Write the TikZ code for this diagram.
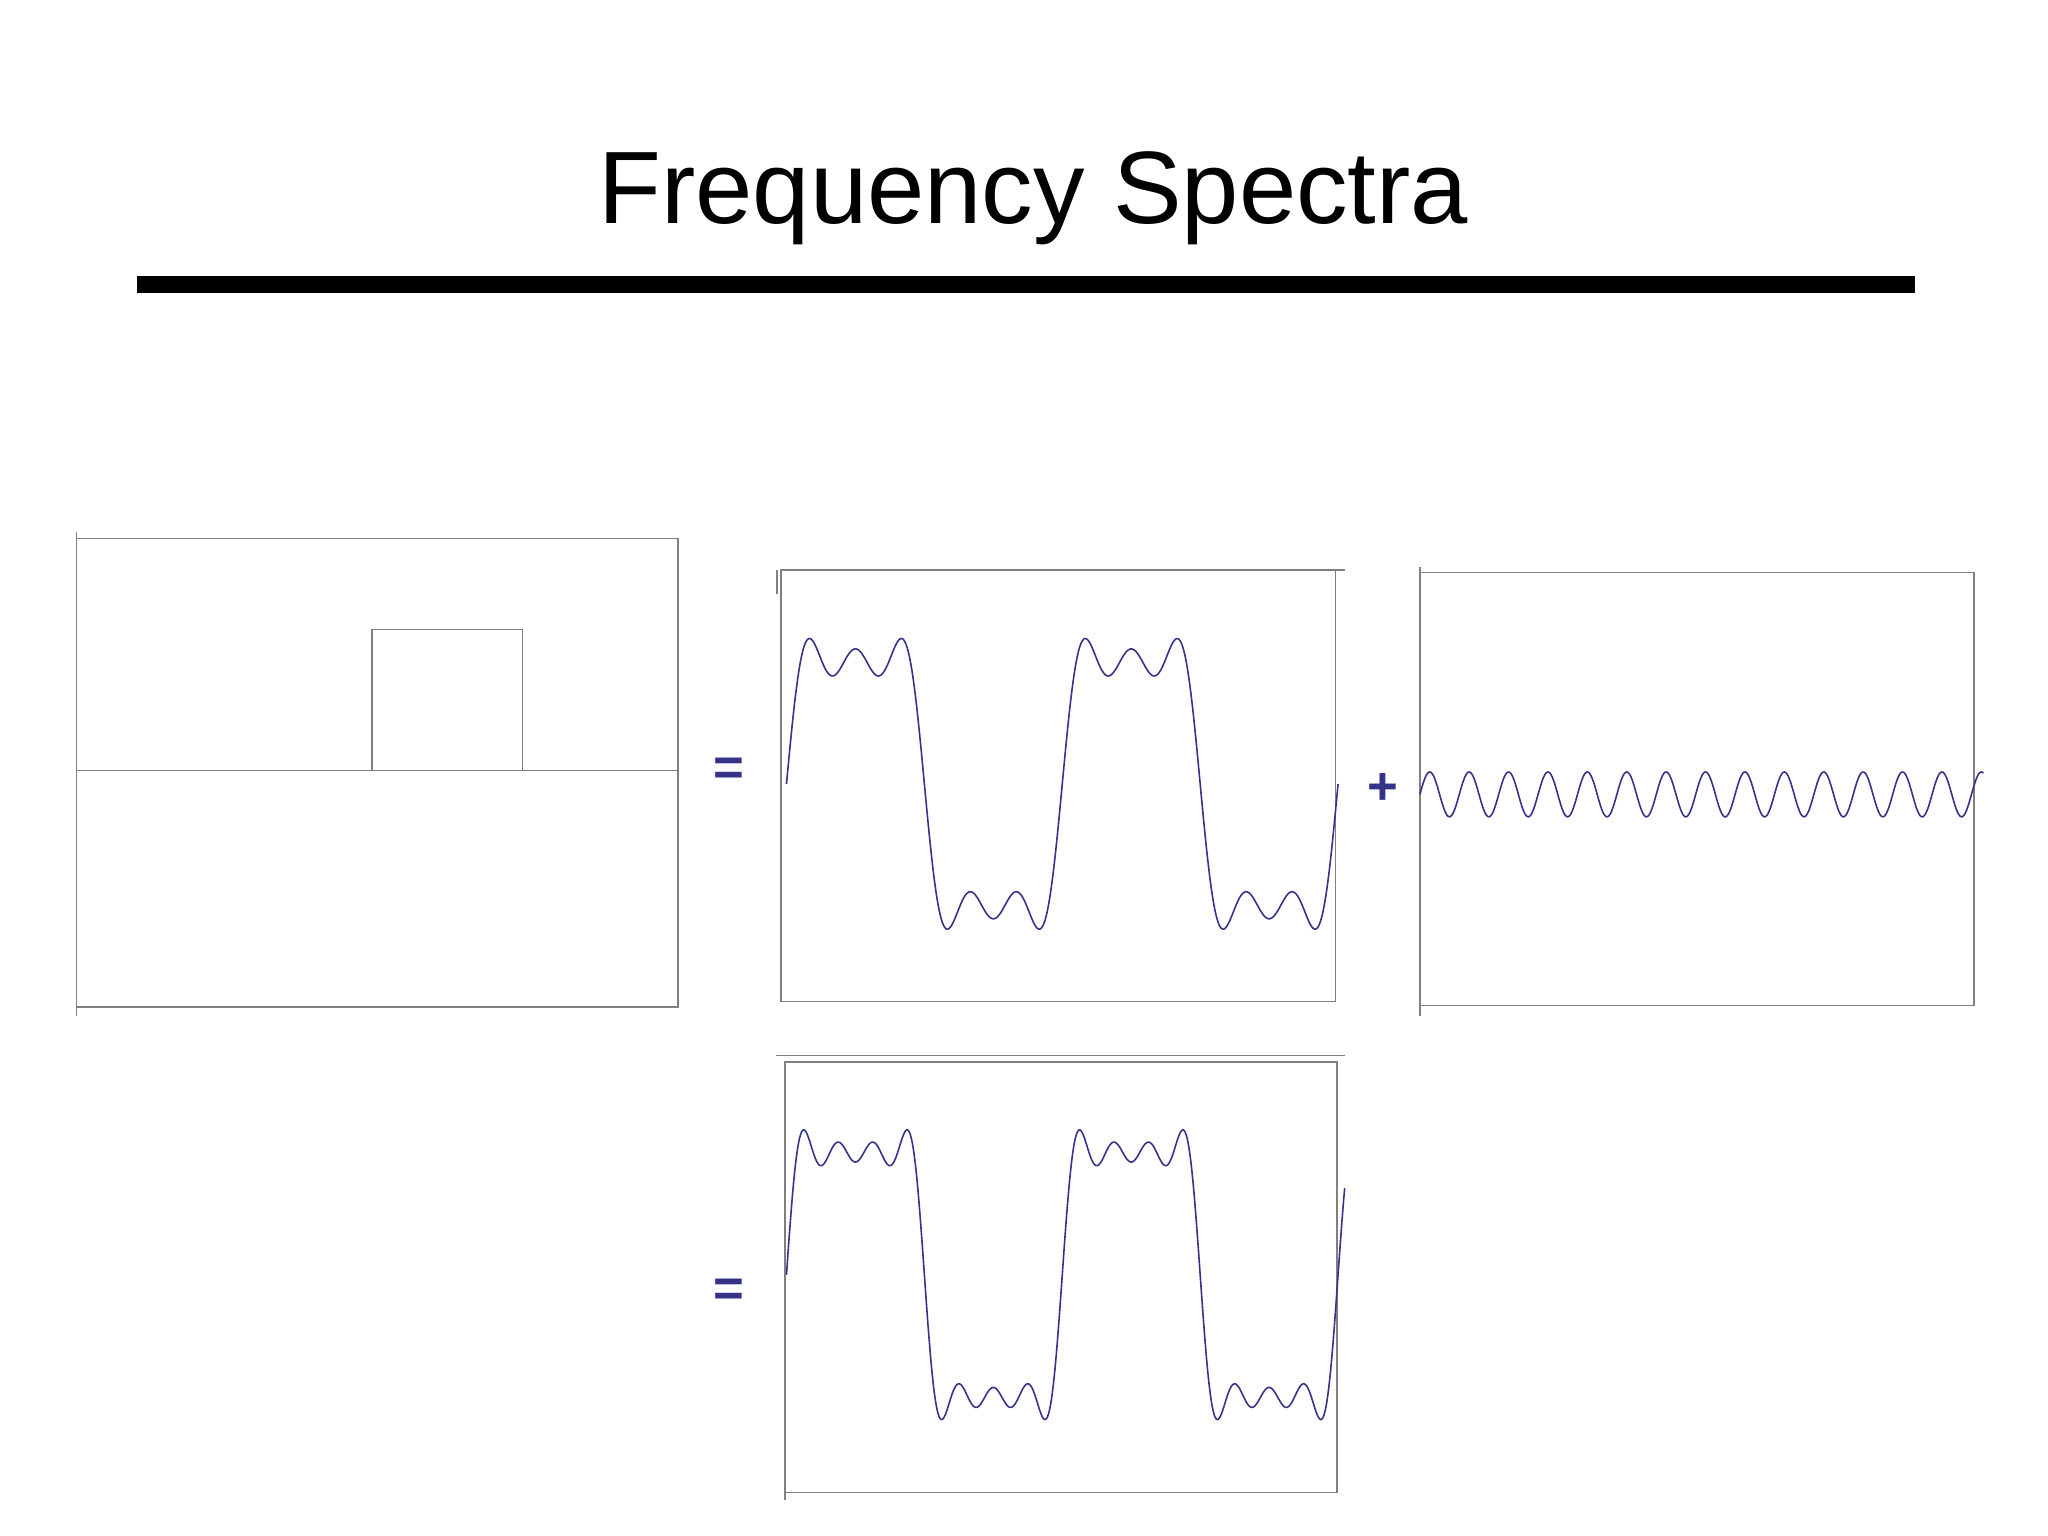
\documentclass[tikz,border=0pt]{standalone}
\usepackage{fontspec}
\setmainfont{Liberation Sans}
\begin{document}
\begin{tikzpicture}[x=1pt,y=-1pt,
  frame/.style={draw=black!50,line width=1.2pt},
  wave/.style={draw={rgb,255:red,51;green,51;blue,136},line width=1.2pt},
  sym/.style={text={rgb,255:red,51;green,51;blue,136},font=\fontsize{40}{40}\selectfont\bfseries}]
\useasboundingbox (0,0) rectangle (1552,1164);
\node (title) at (783,150) {\fontsize{78}{90}\selectfont Frequency Spectra};
\fill (104,209) rectangle (1451,222);
% panel 1
\draw[frame] (58,408) rectangle (514,763);
\draw[frame] (58,403) -- (58,770);
\draw[frame] (58,584) -- (514,584);
\draw[frame] (282,584) -- (282,477) -- (396,477) -- (396,584);
% panel 2
\draw[frame] (592,432) rectangle (1012,759);
\draw[frame] (589,432) -- (589,450);
\draw[frame] (592,432) -- (1019,432);
\draw[wave] plot[domain=0:418,samples=500,smooth] ({596+\x},{594-118*(sin(\x*1.72249)+sin(3*\x*1.72249)/3+sin(5*\x*1.72249)/5)});
% panel 3
\draw[frame] (1076,434) rectangle (1496,762);
\draw[frame] (1076,430) -- (1076,770);
\draw[wave] plot[domain=0:427,samples=500,smooth] ({1076+\x},{602-17*sin(7*\x*1.72249)});
% panel 4
\draw[frame] (595,805) rectangle (1013,1131);
\draw[frame] (595,805) -- (595,1137);
\draw[frame] (588,800) -- (1019,800);
\draw[wave] plot[domain=0:423,samples=600,smooth] ({596+\x},{966-118*(sin(\x*1.72249)+sin(3*\x*1.72249)/3+sin(5*\x*1.72249)/5+sin(7*\x*1.72249)/7)});
% symbols
\node[sym] (eq1) at (552,585) {=};
\node[sym] (plus) at (1048,598) {+};
\node[sym] (eq2) at (552,980) {=};
\end{tikzpicture}
\end{document}
